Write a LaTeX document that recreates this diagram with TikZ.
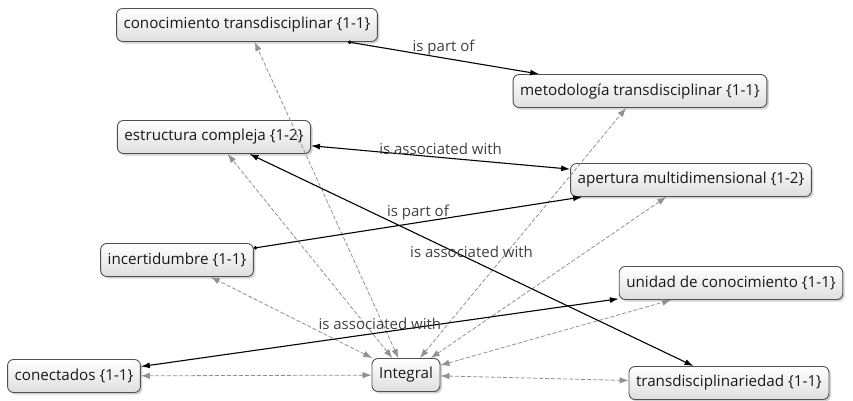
\documentclass[tikz,border=0pt]{standalone}
\usepackage{fontspec}
\setmainfont{Open Sans}
\usetikzlibrary{arrows.meta,shadows}

\begin{document}
\begin{tikzpicture}[x=1pt,y=-1pt,
    concept/.style={draw=boxedge, line width=0.9pt, rounded corners=6pt,
        top color=white, bottom color=boxfill,
        drop shadow={shadow xshift=2pt,shadow yshift=-2pt,opacity=0.35},
        minimum height=33pt, inner xsep=7pt,
        font=\fontsize{15.2}{17}\selectfont, text=black!90},
    link/.style={line width=1.1pt, black},
    assoc/.style={link, {Latex[length=9pt,width=6pt]}-{Latex[length=9pt,width=6pt]}},
    partof/.style={link, {Circle[length=3.5pt]}-{Latex[length=9pt,width=6pt]}},
    tie/.style={linkgray, line width=0.8pt, dash pattern=on 4pt off 2pt,
        {Latex[length=9pt,width=6.5pt]}-{Latex[length=9pt,width=6.5pt]}},
    lbl/.style={font=\fontsize{15}{17}\selectfont, text=black!75, inner sep=2pt}
]

    % Define colors
    \definecolor{boxedge}{RGB}{80,80,80}
    \definecolor{boxfill}{RGB}{222,222,222}
    \definecolor{linkgray}{RGB}{145,145,145}

    \useasboundingbox (0,0) rectangle (853,400);

    \node[concept] (conoc) at (247,25) {conocimiento transdisciplinar \{1-1\}};
    \node[concept] (metod) at (640,91) {metodología transdisciplinar \{1-1\}};
    \node[concept] (estruc) at (214,137) {estructura compleja \{1-2\}};
    \node[concept] (apert) at (691,180) {apertura multidimensional \{1-2\}};
    \node[concept] (incert) at (177,260) {incertidumbre \{1-1\}};
    \node[concept] (unidad) at (731,283) {unidad de conocimiento \{1-1\}};
    \node[concept] (conect) at (74,376) {conectados \{1-1\}};
    \node[concept] (integ) at (406,375) {Integral};
    \node[concept] (transd) at (729,383) {transdisciplinariedad \{1-1\}};

    % links to Integral
    \foreach \n in {conoc,metod,estruc,apert,incert,unidad,conect,transd}
        \draw[tie] (integ) -- (\n);

    \draw[partof] (conoc) -- node[lbl, above, pos=0.5] (lblpartA) {is part of} (metod);
    \draw[assoc] (estruc) -- node[lbl, above, pos=0.5] (lblassocA) {is associated with} (apert);
    \draw[partof] (incert) -- node[lbl, above, pos=0.5] (lblpartB) {is part of} (apert);
    \draw[assoc] (estruc) -- node[lbl, above, pos=0.5] (lblassocB) {is associated with} (transd);
    \draw[assoc] (conect) -- node[lbl, above, pos=0.5] (lblassocC) {is associated with} (unidad);

\end{tikzpicture}
\end{document}
